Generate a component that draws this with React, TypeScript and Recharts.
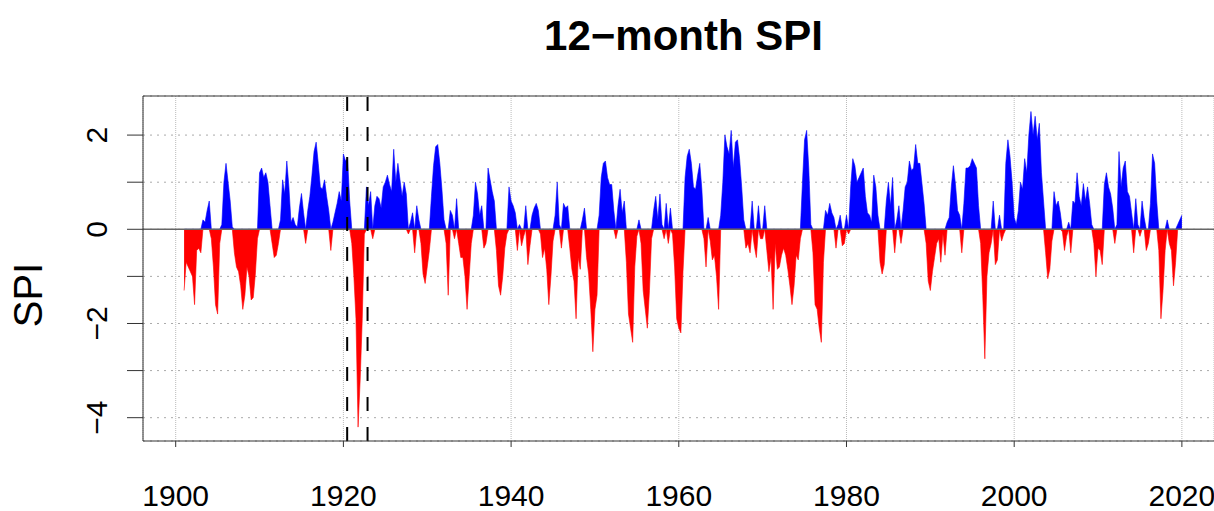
import React from 'react';
import { AreaChart, Area, XAxis, YAxis, CartesianGrid, ReferenceLine } from 'recharts';

// 12-month SPI, quarterly readings, first value = 1901.0
const startYear = 1901;
const stepsPerYear = 4;

const spi1900s = [
  -1.3, -0.7, -0.8, -0.9,
  -1.0, -1.6, -0.45, -0.4,
  -0.5, 0.2, 0.15, 0.4,
  0.6, -0.2, -0.8, -1.6,
  -1.8, -0.3, 0.1, 1.0,
  1.4, 1.0, 0.6, 0.05,
  -0.5, -0.8, -0.9, -1.2,
  -1.7, -1.4, -0.8, -1.0,
  -1.5, -1.45, -0.95, -0.2,
];
const spi1910s = [
  1.2, 1.3, 1.1, 1.2,
  1.0, 0.5, -0.3, -0.6,
  -0.55, -0.3, 0.2, 1.05,
  0.75, 1.45, 0.9, 0.15,
  0.25, 0.1, 0.05, 0.45,
  0.76, 0.35, -0.3, 0.4,
  0.7, 1.15, 1.65, 1.85,
  1.4, 0.9, 0.85, 1.05,
  0.7, 0.4, -0.45, 0.15,
  0.35, 0.55, 0.8, 0.6,
];
const spi1920s = [
  1.6, 1.45, 1.5, 0.6,
  -0.3, -1.0, -1.9, -4.2,
  -3.2, -1.9, -0.1, 0.9,
  0.5, 0.8, -0.2, 0.5,
  0.7, 0.65, 0.45, 0.9,
  1.0, 1.15, 0.95, 0.8,
  1.7, 1.0, 1.4, 1.05,
  0.7, 1.0, 0.75, -0.1,
  0.15, 0.35, -0.5, 0.5,
  0.2, -0.3, -0.95, -1.15,
];
const spi1930s = [
  -0.8, -0.45, 0.7, 1.35,
  1.75, 1.8, 1.4, 0.85,
  0.2, -0.3, -1.4, 0.4,
  0.3, -0.2, 0.65, -0.3,
  -0.6, -0.6, -1.0, -1.7,
  -1.0, -0.3, 0.3, 1.0,
  0.75, 0.3, 0.5, -0.4,
  -0.3, 1.3, 1.05, 0.8,
  0.6, -0.45, -1.2, -1.4,
  -1.0, -0.4, -0.1, 0.9,
];
const spi1940s = [
  0.6, 0.5, 0.35, -0.45,
  0.1, -0.35, -0.15, 0.5,
  -0.75, -0.35, 0.3, 0.45,
  0.55, 0.4, -0.1, -0.6,
  -0.4, -0.85, -1.6, -1.0,
  -0.25, 0.3, 1.0, 0.1,
  -0.4, 0.55, 0.45, 0.5,
  -0.4, -0.85, -1.1, -1.9,
  -0.6, -0.85, 0.2, 0.45,
  -0.6, -0.95, -1.7, -2.6,
];
const spi1950s = [
  -1.7, -1.4, 0.3, 1.1,
  1.4, 1.45, 1.1, 0.95,
  0.95, 0.4, -0.2, 0.5,
  0.85, 0.35, 0.6, -0.7,
  -1.8, -2.1, -2.4, -0.8,
  -0.15, 0.2, -0.3, -1.3,
  -1.7, -2.1, -1.3, -0.2,
  0.4, 0.7, 0.2, 0.75,
  0.1, -0.2, 0.55, -0.3,
  0.45, -0.1, -0.8, -1.9,
];
const spi1960s = [
  -2.1, -2.2, -0.9, 1.1,
  1.55, 1.7, 1.4, 0.9,
  0.85, 1.15, 1.4, 0.85,
  -0.2, -0.8, 0.25, -0.25,
  -0.65, -0.55, -1.0, -1.7,
  0.3, 1.0, 2.0, 1.75,
  1.6, 2.1, 1.3, 1.85,
  1.9, 1.5, 0.9, 0.2,
  -0.4, -0.3, -0.5, 0.6,
  -0.35, -0.6, 0.5, -0.2,
];
const spi1970s = [
  -0.2, 0.5, -0.45, -0.9,
  -0.6, -1.7, -0.3, -0.85,
  -0.8, -0.55, -0.4, -0.55,
  -0.85, -1.2, -1.6, -1.2,
  -0.55, -0.65, -0.2, 1.0,
  1.9, 2.1, 1.3, 0.1,
  -0.5, -1.6, -1.7, -2.1,
  -2.4, -0.7, 0.4, 0.3,
  0.55, 0.35, 0.25, -0.4,
  0.1, 0.3, -0.35, -0.3,
];
const spi1980s = [
  0.3, -0.1, 0.9, 1.5,
  1.35, 1.0, 1.1, 1.2,
  1.3, 0.7, 0.35, 0.3,
  0.15, 1.15, 0.9, 0.3,
  -0.7, -0.95, -0.75, 0.6,
  1.0, 0.5, 1.1, -0.5,
  0.2, 0.5, -0.3, 0.4,
  0.9, 1.0, 1.45, 1.25,
  1.3, 1.8, 1.4, 1.4,
  0.97, 0.55, -0.3, -1.1,
];
const spi1990s = [
  -1.3, -0.9, -0.6, -0.3,
  -0.2, -0.7, -0.1, -0.55,
  0.15, 0.25, 0.9, 1.35,
  0.95, 0.4, 0.3, -0.5,
  0.55, 1.3, 1.3, 1.35,
  1.5, 1.4, 1.3, 0.5,
  -0.3, -1.4, -2.75, -1.0,
  -0.5, -0.3, 0.6, -0.75,
  -0.65, 0.3, -0.25, -0.1,
  1.4, 1.9, 1.55, 1.0,
];
const spi2000s = [
  0.25, 0.1, 0.4, 1.0,
  0.85, 1.5, 1.2, 2.0,
  2.5, 2.0, 2.4, 1.9,
  2.25, 1.2, 0.6, -0.5,
  -1.05, -0.85, -0.25, 0.8,
  0.5, 0.6, 0.35, -0.05,
  -0.45, -0.15, 0.15, -0.5,
  0.6, 0.55, 1.2, 0.7,
  0.5, 0.97, 0.6, 0.9,
  0.55, 0.1, -0.3, -1.0,
];
const spi2010s = [
  -0.4, -0.45, -0.75, 0.95,
  1.2, 0.9, 0.75, 0.45,
  -0.3, 0.1, 1.65, 0.9,
  1.3, 1.45, 0.8, 0.7,
  0.35, -0.5, 0.65, 0.1,
  -0.15, 0.6, 0.25, -0.45,
  -0.3, 0.55, 1.6, 1.4,
  0.6, -0.45, -1.9, -1.3,
  -0.45, 0.2, -0.3, -0.45,
  -1.2, -0.7, 0.1, 0.2,
];
const spi2020s = [0.3];

const xTicks = [1900, 1920, 1940, 1960, 1980, 2000, 2020];
const yTicks = [-4, -3, -2, -1, 0, 1, 2];
// start / end of the 1921-22 drought marked with dashed lines
const droughtBounds = [1920.45, 1922.88];

const spiValues = [
  ...spi1900s, ...spi1910s, ...spi1920s, ...spi1930s, ...spi1940s, ...spi1950s,
  ...spi1960s, ...spi1970s, ...spi1980s, ...spi1990s, ...spi2000s, ...spi2010s, ...spi2020s,
];

const chartData = spiValues.map((v, i) => ({
  t: startYear + i / stepsPerYear,
  pos: v > 0 ? v : 0,
  neg: v < 0 ? v : 0,
}));

const FONT = '"Liberation Sans", Arial, Helvetica, sans-serif';
const X_DOMAIN: [number, number] = [1896.1, 2023.83];
const Y_DOMAIN: [number, number] = [-4.495, 2.83];
const AXIS_COLOR = '#333';

const fmt = (v: number) => (v < 0 ? `\u2212${Math.abs(v)}` : `${v}`);

// R-style rotated y labels, only on even values
const YTick = ({ x, y, payload }: any) => {
  const v = payload.value;
  if (v % 2 !== 0) return <g />;
  return (
    <text
      x={x}
      y={y}
      transform={`rotate(-90 ${x} ${y})`}
      textAnchor="middle"
      fontSize={30}
      fontFamily={FONT}
      fill="#000"
    >
      {fmt(v)}
    </text>
  );
};

export default function App() {
  return (
    <div style={{ position: 'absolute', left: 0, top: 0, width: 1214, height: 511, background: '#fff' }}>
      <AreaChart
        width={1214}
        height={511}
        data={chartData}
        margin={{ top: 96, right: 0, bottom: 0, left: 0 }}
      >
        <CartesianGrid horizontal={false} stroke="#bbb" strokeDasharray="1 1" />
        <CartesianGrid vertical={false} stroke="#aaa" strokeDasharray="2 5" />
        <XAxis
          dataKey="t"
          type="number"
          domain={X_DOMAIN}
          ticks={xTicks}
          allowDataOverflow
          height={70}
          tickSize={6}
          tickMargin={38}
          stroke={AXIS_COLOR}
          tick={{ fontSize: 30, fontFamily: FONT, fill: '#000' }}
        />
        <YAxis
          type="number"
          domain={Y_DOMAIN}
          ticks={yTicks}
          allowDataOverflow
          width={143}
          tickSize={16}
          tickMargin={20}
          stroke={AXIS_COLOR}
          tick={<YTick />}
        />
        <Area
          type="linear"
          dataKey="pos"
          baseValue={0}
          stroke="#0000ff"
          strokeWidth={0.6}
          fill="#0000ff"
          fillOpacity={1}
          dot={false}
          activeDot={false}
          isAnimationActive={false}
        />
        <Area
          type="linear"
          dataKey="neg"
          baseValue={0}
          stroke="#ff0000"
          strokeWidth={0.6}
          fill="#ff0000"
          fillOpacity={1}
          dot={false}
          activeDot={false}
          isAnimationActive={false}
        />
        <ReferenceLine y={0} stroke="#666" strokeWidth={1.5} />
        {droughtBounds.map((b) => (
          <ReferenceLine key={b} x={b} stroke="#000" strokeWidth={2} strokeDasharray="14 16" />
        ))}
        <ReferenceLine y={Y_DOMAIN[1]} stroke={AXIS_COLOR} ifOverflow="visible" />
      </AreaChart>
      <svg
        width={1214}
        height={511}
        style={{ position: 'absolute', left: 0, top: 0, pointerEvents: 'none' }}
      >
        <text x={683.5} y={50} textAnchor="middle" fontSize={42} fontWeight="bold" fontFamily={FONT}>
          12{'\u2212'}month SPI
        </text>
        <text
          x={42}
          y={295}
          transform="rotate(-90 42 295)"
          textAnchor="middle"
          fontSize={40}
          fontFamily={FONT}
        >
          SPI
        </text>
      </svg>
    </div>
  );
}
